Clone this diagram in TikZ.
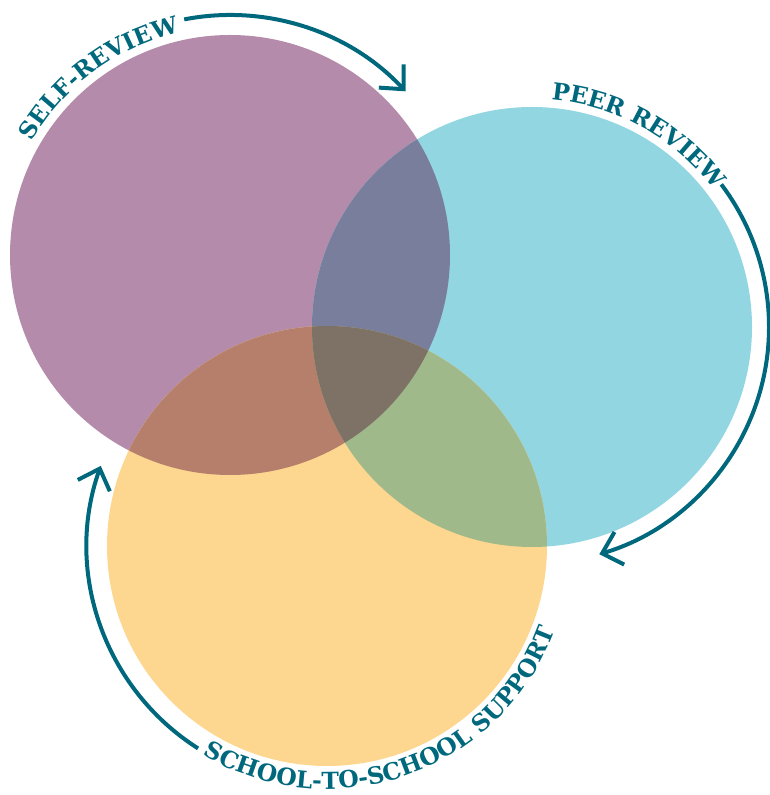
\documentclass[tikz,border=0pt]{standalone}
\usepackage{fontspec}
\newfontfamily\slabfont{DejaVu Serif}
\usetikzlibrary{arrows.meta,decorations.text}

\definecolor{selfcol}{RGB}{180,139,170}
\definecolor{peercol}{RGB}{146,214,226}
\definecolor{schoolcol}{RGB}{253,214,144}
\definecolor{selfpeercol}{RGB}{120,126,156}
\definecolor{selfschoolcol}{RGB}{181,127,107}
\definecolor{peerschoolcol}{RGB}{160,185,139}
\definecolor{allcol}{RGB}{126,114,103}
\definecolor{cyclecol}{RGB}{0,104,125}

\newcommand\ringfont{\slabfont\bfseries\fontsize{23.5}{23.5}\selectfont}

\begin{document}
\begin{tikzpicture}[x=1pt,y=1pt,
    cycle arrow/.style={draw=cyclecol,line width=4pt,-{Straight Barb[length=18pt,width=34pt]}},
    ring text/.style={decorate,decoration={text along path,text align=center,
        text color=cyclecol,text={|\ringfont|#1}}}]
    \useasboundingbox (0,0) rectangle (769,795);

    %Centres
    \coordinate (self)   at (230,540);
    \coordinate (peer)   at (532,468);
    \coordinate (school) at (327,249);

    %Circles
    \fill[selfcol]   (self)   circle[radius=220pt];
    \fill[peercol]   (peer)   circle[radius=220pt];
    \fill[schoolcol] (school) circle[radius=220pt];

    %Overlaps
    \begin{scope}
        \clip (self) circle[radius=220pt];
        \fill[selfpeercol]   (peer)   circle[radius=220pt];
        \fill[selfschoolcol] (school) circle[radius=220pt];
    \end{scope}
    \begin{scope}
        \clip (peer) circle[radius=220pt];
        \fill[peerschoolcol] (school) circle[radius=220pt];
    \end{scope}
    \begin{scope}
        \clip (self) circle[radius=220pt];
        \clip (peer) circle[radius=220pt];
        \fill[allcol] (school) circle[radius=220pt];
    \end{scope}

    %Labels
    \coordinate (selftext)   at ([shift={(196.5:228pt)}]self);
    \coordinate (peertext)   at ([shift={(131:228pt)}]peer);
    \coordinate (schooltext) at ([shift={(219.5:243pt)}]school);
    \path[ring text=SELF-REVIEW] (selftext) arc[start angle=196.5,end angle=56.5,radius=228pt];
    \path[ring text=PEER REVIEW] (peertext) arc[start angle=131,end angle=-9,radius=228pt];
    \path[ring text=SCHOOL-TO-SCHOOL SUPPORT] (schooltext) arc[start angle=219.5,end angle=359.5,radius=243pt];

    %Arrows
    \coordinate (selfarrow)   at ([shift={(101:240pt)}]self);
    \coordinate (peerarrow)   at ([shift={(37:237pt)}]peer);
    \coordinate (schoolarrow) at ([shift={(237.5:240pt)}]school);
    \draw[cycle arrow] (selfarrow) arc[start angle=101,end angle=43,radius=240pt];
    \draw[cycle arrow] (peerarrow) arc[start angle=37,end angle=-73.5,radius=237pt];
    \draw[cycle arrow] (schoolarrow) arc[start angle=237.5,end angle=160.5,radius=240pt];
\end{tikzpicture}
\end{document}
